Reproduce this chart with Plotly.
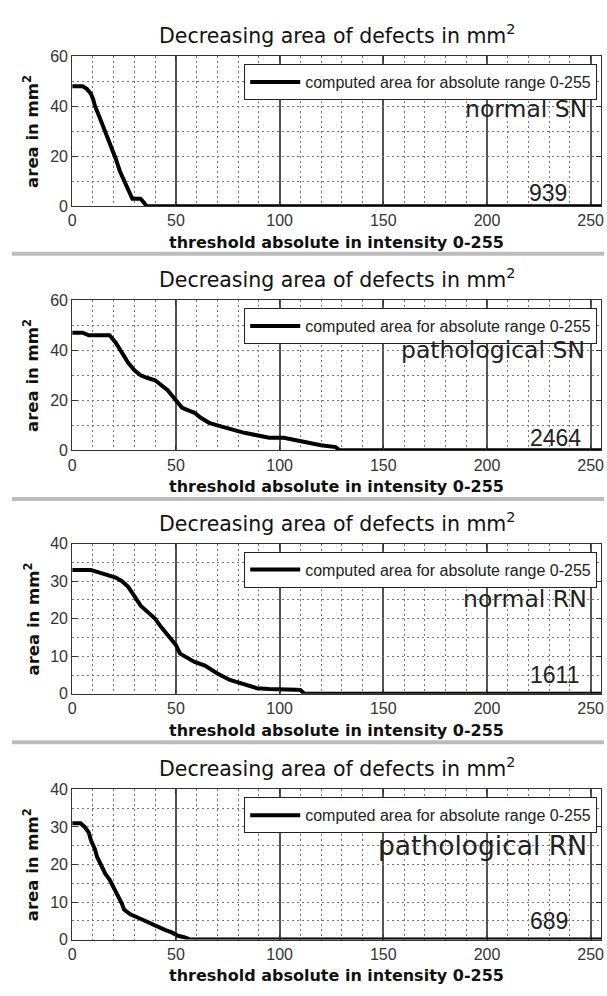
import plotly.graph_objects as go
from plotly.subplots import make_subplots

# ---------------- data ----------------
x_normal_sn = [0, 5, 7, 9, 10, 11, 13, 15, 17, 19, 21, 23, 25, 27, 28, 29, 33, 35, 36, 255]
y_normal_sn = [48, 48, 47, 45, 43, 40, 36, 32, 28, 24, 19, 14, 10, 6, 4, 3, 3, 1, 0, 0]

x_patho_sn = [0, 5, 8, 18, 21, 24, 27, 30, 33, 36, 40, 43, 46, 50, 53, 56, 59, 62, 66, 70,
              76, 83, 89, 95, 102, 108, 114, 120, 127, 129, 255]
y_patho_sn = [47, 47, 46, 46, 43, 39, 35, 32, 30, 29, 28, 26, 24, 20, 17, 16, 15, 13, 11, 10,
              8.5, 7, 6, 5, 5, 4, 3, 2, 1.3, 0, 0]

x_normal_rn = [0, 5, 9, 12, 15, 18, 21, 24, 27, 30, 33, 37, 40, 43, 46, 50, 52, 56, 59, 64,
               70, 76, 83, 89, 95, 102, 108, 110, 112, 255]
y_normal_rn = [33, 33, 33, 32.5, 32, 31.5, 31, 30, 28.5, 26, 23.5, 21.5, 20, 17.7, 15.5, 13, 10.7, 9.4, 8.5, 7.5,
               5.4, 3.7, 2.4, 1.5, 1.3, 1.3, 1.1, 1, 0, 0]

x_patho_rn = [0, 4, 6, 8, 9, 11, 12, 14, 16, 18, 20, 22, 24, 25, 28, 31, 35, 38, 41, 45, 48, 51, 54, 57, 255]
y_patho_rn = [31, 31, 30, 28.5, 26.5, 24, 22, 19.5, 17.5, 16, 14, 11.5, 9.5, 8, 6.7, 6, 5, 4, 3.4, 2.5, 1.9, 1, 0.6, 0, 0]

series_x = [x_normal_sn, x_patho_sn, x_normal_rn, x_patho_rn]
series_y = [y_normal_sn, y_patho_sn, y_normal_rn, y_patho_rn]

panel_labels = ["normal SN", "pathological SN", "normal RN", "pathological RN"]
pixel_counts = ["939", "2464", "1611", "689"]
y_max = [60, 60, 40, 40]
y_dtick = [20, 20, 10, 10]
x_range = [0, 255]
legend_name = "computed area for absolute range 0-255"
title_text = "Decreasing area of defects in mm<sup>2</sup>"
x_label = "threshold absolute in intensity 0-255"
y_label = "area in mm<sup>2</sup>"

# ---------------- layout geometry (pixels) ----------------
W, H = 607, 996
L, R = 69, 604
tops = [49, 297.3, 545, 795]
ph = 152.7
label_pos = [(249, 39), (248, 40), (249, 25.3), (249, 25)]
label_size = [23.5, 23.5, 23.5, 26.5]
count_pos = [(239.5, 5.3), (246.4, 4.9), (245.5, 5.1), (240, 5.0)]
separators = [(248, 252), (497.5, 501.5), (745, 749)]

fig = make_subplots(rows=4, cols=1)

TICKFONT = dict(family="Liberation Sans, Arial, sans-serif", size=16, color="#333")

for i in range(4):
    r = i + 1
    lg = "legend" if i == 0 else f"legend{r}"
    fig.add_trace(go.Scatter(x=series_x[i], y=series_y[i], mode="lines",
                             line=dict(color="black", width=4),
                             name=legend_name, legend=lg, showlegend=True,
                             hoverinfo="skip"), row=r, col=1)
    top = tops[i]
    bot = top + ph
    xa = "xaxis" if i == 0 else f"xaxis{r}"
    ya = "yaxis" if i == 0 else f"yaxis{r}"
    fig.layout[xa].update(
        domain=[L / W, R / W], range=x_range, tickmode="linear", tick0=0, dtick=50,
        showgrid=True, gridcolor="#555", gridwidth=1.6, zeroline=False,
        minor=dict(dtick=10, tick0=0, showgrid=True, gridcolor="#777", griddash="2px,3px", gridwidth=1),
        ticks="inside", ticklen=5, tickcolor="#333", showline=True, linecolor="#333",
        linewidth=1, mirror="ticks", tickfont=TICKFONT)
    fig.layout[ya].update(
        domain=[1 - bot / H, 1 - top / H], range=[0, y_max[i]], tickmode="linear", tick0=0,
        dtick=y_dtick[i], showgrid=True, gridcolor="#777", griddash="2px,3px", gridwidth=1,
        zeroline=False,
        minor=dict(dtick=y_dtick[i] / 2, tick0=0, showgrid=True, gridcolor="#777",
                   griddash="2px,3px", gridwidth=1),
        ticks="inside", ticklen=5, tickcolor="#333", showline=True, linecolor="#333",
        linewidth=1, mirror="ticks", tickfont=TICKFONT)

    fig.layout[lg] = dict(
        x=243 / W, y=1 - (top + 8) / H, xanchor="left", yanchor="top",
        bordercolor="#222", borderwidth=1, bgcolor="white", itemwidth=50,
        font=dict(family="Liberation Sans, Arial, sans-serif", size=16, color="#222"))

    cx = (L + R) / 2 / W
    fig.add_annotation(text=title_text, xref="paper", yref="paper", x=cx,
                       y=1 - (top - 22) / H, xanchor="center", yanchor="middle", showarrow=False,
                       font=dict(family="DejaVu Sans, sans-serif", size=20.5, color="#111"))
    fig.add_annotation(text=x_label, xref="paper", yref="paper", x=cx,
                       y=1 - (bot + 37) / H, xanchor="center", yanchor="middle", showarrow=False,
                       font=dict(family="DejaVu Sans, sans-serif", size=16, color="#111", weight="bold"))
    fig.add_annotation(text=y_label, xref="paper", yref="paper", x=28 / W,
                       y=1 - (top + ph / 2) / H, xanchor="center", yanchor="middle",
                       textangle=-90, showarrow=False,
                       font=dict(family="DejaVu Sans, sans-serif", size=16.5, color="#111", weight="bold"))
    xr = "x" if i == 0 else f"x{r}"
    yr = "y" if i == 0 else f"y{r}"
    fig.add_annotation(text=panel_labels[i], xref=xr, yref=yr, x=label_pos[i][0], y=label_pos[i][1],
                       xanchor="right", yanchor="middle", showarrow=False,
                       font=dict(family="DejaVu Sans, sans-serif", size=label_size[i], color="#222"))
    fig.add_annotation(text=pixel_counts[i], xref=xr, yref=yr, x=count_pos[i][0], y=count_pos[i][1],
                       xanchor="right", yanchor="middle", showarrow=False,
                       font=dict(family="Liberation Sans, Arial, sans-serif", size=23, color="#222"))

for (a, b) in separators:
    fig.add_shape(type="rect", xref="paper", yref="paper", x0=8 / W, x1=1,
                  y0=1 - b / H, y1=1 - a / H, fillcolor="#bcbcbc", line=dict(width=0), layer="above")

fig.update_layout(width=W, height=H, margin=dict(l=0, r=0, t=0, b=0),
                  paper_bgcolor="white", plot_bgcolor="white")

fig.write_html("out.html")
